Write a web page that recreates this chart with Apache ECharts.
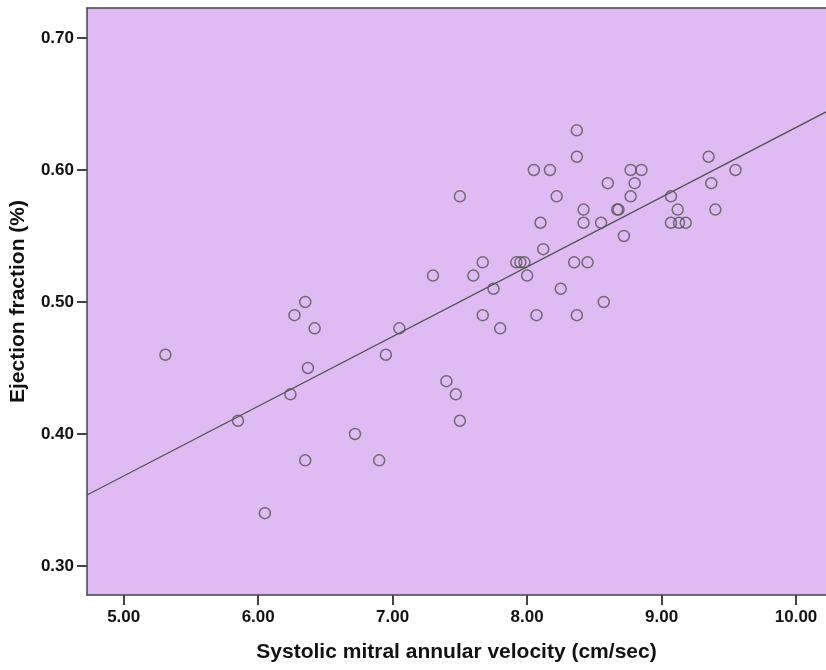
<!DOCTYPE html>
<html>
<head>
<meta charset="utf-8">
<script src="https://cdn.jsdelivr.net/npm/echarts@6/dist/echarts.min.js"></script>
<style>
  html, body { margin: 0; padding: 0; background: #fff; }
  #main { width: 826px; height: 670px; }
</style>
</head>
<body>
<div id="main"></div>
<script>
// velocity (cm/sec) and ejection fraction
var velocity = [
  5.31, 5.85, 6.05, 6.24, 6.27, 6.35, 6.37, 6.35, 6.42, 6.72,
  6.90, 6.95, 7.05, 7.30, 7.40, 7.47, 7.50, 7.50, 7.60, 7.67,
  7.67, 7.75, 7.80, 7.92, 7.95, 7.98, 8.00, 8.05, 8.07, 8.10,
  8.12, 8.17, 8.22, 8.25, 8.37, 8.37, 8.35, 8.37, 8.42, 8.42,
  8.45, 8.55, 8.57, 8.60, 8.67, 8.68, 8.72, 8.77, 8.77, 8.80,
  8.85, 9.07, 9.07, 9.12, 9.13, 9.18, 9.35, 9.37, 9.40, 9.55
];
var ejection = [
  0.46, 0.41, 0.34, 0.43, 0.49, 0.50, 0.45, 0.38, 0.48, 0.40,
  0.38, 0.46, 0.48, 0.52, 0.44, 0.43, 0.58, 0.41, 0.52, 0.53,
  0.49, 0.51, 0.48, 0.53, 0.53, 0.53, 0.52, 0.60, 0.49, 0.56,
  0.54, 0.60, 0.58, 0.51, 0.63, 0.61, 0.53, 0.49, 0.57, 0.56,
  0.53, 0.56, 0.50, 0.59, 0.57, 0.57, 0.55, 0.60, 0.58, 0.59,
  0.60, 0.58, 0.56, 0.57, 0.56, 0.56, 0.61, 0.59, 0.57, 0.60
];
// linear fit line
var fitIntercept = 0.1042;
var fitSlope = 0.0528;

var xTicks = [5, 6, 7, 8, 9, 10];
var yTicks = [0.3, 0.4, 0.5, 0.6, 0.7];
var xMin = 4.727, xMax = 10.223;
var yMin = 0.278, yMax = 0.7227;

var points = [];
for (var i = 0; i < velocity.length; i++) {
  points.push([velocity[i], ejection[i]]);
}
var fitLine = [
  [xMin, fitIntercept + fitSlope * xMin],
  [xMax, fitIntercept + fitSlope * xMax]
];

var fontName = 'Liberation Sans, Arial, sans-serif';
var labelFont = { fontFamily: fontName, fontWeight: 'bold', fontSize: 17, color: '#111' };
var titleFont = { fontFamily: fontName, fontWeight: 'bold', fontSize: 21, color: '#111' };
var frameLine = { show: true, onZero: false, lineStyle: { color: '#444', width: 1.5 } };

var chart = echarts.init(document.getElementById('main'));
chart.setOption({
  animation: false,
  grid: {
    // no right border in the picture: frame drawn from axis lines instead
    left: 86, top: 8, right: 0, bottom: 75,
    show: true, backgroundColor: '#dfbaf3', borderWidth: 0
  },
  xAxis: [{
    type: 'value', min: xMin, max: xMax,
    name: 'Systolic mitral annular velocity (cm/sec)',
    nameLocation: 'middle', nameGap: 47,
    nameTextStyle: titleFont,
    axisLine: frameLine,
    axisTick: { show: true, length: 10, lineStyle: { color: '#444', width: 2 }, customValues: xTicks },
    axisLabel: Object.assign({ margin: 14, formatter: function (v) { return v.toFixed(2); }, customValues: xTicks }, labelFont),
    splitLine: { show: false }
  }, {
    type: 'value', min: xMin, max: xMax, position: 'top',
    axisLine: frameLine,
    axisTick: { show: false },
    axisLabel: { show: false },
    splitLine: { show: false }
  }],
  yAxis: {
    type: 'value', min: yMin, max: yMax,
    name: 'Ejection fraction (%)',
    nameLocation: 'middle', nameGap: 58,
    nameTextStyle: titleFont,
    axisLine: frameLine,
    axisTick: { show: true, length: 10, lineStyle: { color: '#444', width: 2 }, customValues: yTicks },
    axisLabel: Object.assign({ margin: 13, formatter: function (v) { return v.toFixed(2); }, customValues: yTicks }, labelFont),
    splitLine: { show: false }
  },
  series: [
    {
      type: 'line',
      data: fitLine,
      showSymbol: false,
      lineStyle: { color: '#555', width: 1.3 },
      silent: true,
      z: 2
    },
    {
      type: 'scatter',
      data: points,
      symbol: 'circle',
      symbolSize: 11,
      itemStyle: { color: 'rgba(0,0,0,0)', borderColor: '#555', borderWidth: 1.5 },
      z: 3
    }
  ]
});
</script>
</body>
</html>
